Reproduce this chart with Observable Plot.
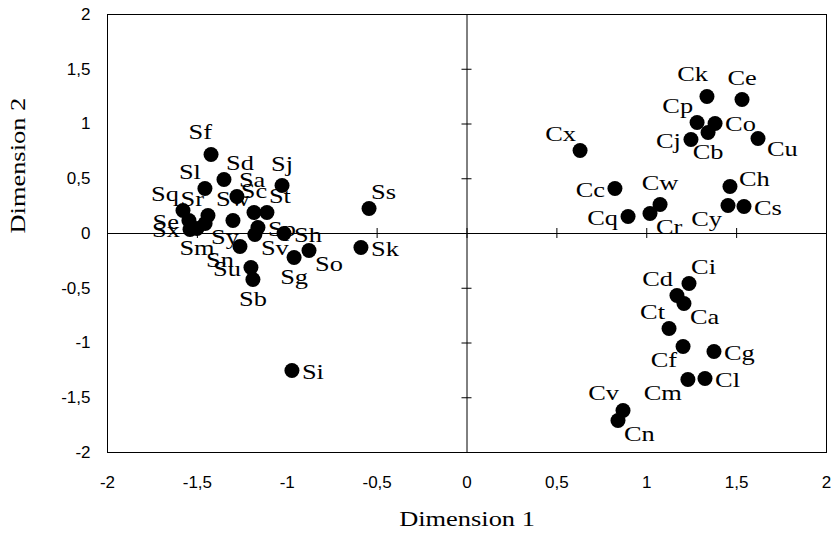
<!DOCTYPE html>
<html>
<head>
<meta charset="utf-8">
<script src="https://cdn.jsdelivr.net/npm/d3@7"></script>
<script src="https://cdn.jsdelivr.net/npm/@observablehq/plot@0.6"></script>
<style>
  html, body { margin: 0; padding: 0; background: #fff; }
</style>
</head>
<body>
<div id="chart"></div>
<script>
// ---- data ----
const names = ["Sa","Sb","Sc","Sd","Se","Sf","Sg","Sh","Si","Sj","Sk","Sl","Sm","Sn","So","Sp","Sq","Sr","Ss","St","Su","Sv","Sw","Sx","Sy",
               "Ca","Cb","Cc","Cd","Ce","Cf","Cg","Ch","Ci","Cj","Ck","Cl","Cm","Cn","Co","Cp","Cq","Cr","Cs","Ct","Cu","Cv","Cw","Cx","Cy"];
const dim1 = [-1.280,-1.191,-1.185,-1.352,-1.547,-1.424,-0.962,-1.018,-0.974,-1.029,-0.590,-1.458,-1.502,-1.263,-0.879,-1.163,-1.580,-1.441,-0.545,-1.113,-1.202,-1.180,-1.302,-1.541,-1.457,
              1.207,1.341,0.823,1.168,1.530,1.202,1.374,1.463,1.235,1.246,1.335,1.324,1.229,0.840,1.380,1.280,0.896,1.018,1.541,1.124,1.619,0.868,1.074,0.629,1.452];
const dim2 = [0.338,-0.420,0.192,0.493,0.119,0.721,-0.219,0.000,-1.251,0.438,-0.128,0.411,0.046,-0.119,-0.155,0.055,0.210,0.164,0.228,0.192,-0.311,-0.009,0.119,0.037,0.091,
              -0.639,0.922,0.411,-0.566,1.224,-1.032,-1.078,0.429,-0.457,0.858,1.251,-1.324,-1.333,-1.708,1.005,1.014,0.155,0.183,0.247,-0.868,0.868,-1.616,0.265,0.758,0.256];
// label placement (compass direction relative to the point)
const labelDir = ["ne","s","n","ne","w","nnw","s","e","e","n","e","nw","s","sw","se","e","nw","nw","ne","ne","w","se","n","w","se",
                  "se","s","w","nw","n","sw","e","ene","ne","w","nnw","e","sw","se","e","nw","w","se","e","nw","ese","nw","n","nw","sw"];
const axisTicks = [-2,-1.5,-1,-0.5,0,0.5,1,1.5,2];
const xTitle = "Dimension 1";
const yTitle = "Dimension 2";

const points = names.map((n, i) => ({name: n, x: dim1[i], y: dim2[i], dir: labelDir[i]}));

// ---- styling ----
const offsets = {
  n:   {dx: 0,   dy: -22, anchor: "middle"},
  nnw: {dx: 1,   dy: -23, anchor: "end"},
  s:   {dx: 0,   dy: 19,  anchor: "middle"},
  e:   {dx: 10,  dy: 1,   anchor: "start"},
  ene: {dx: 9,   dy: -8,  anchor: "start"},
  ese: {dx: 9,   dy: 10,  anchor: "start"},
  w:   {dx: -10, dy: 1,   anchor: "end"},
  ne:  {dx: 2,   dy: -17, anchor: "start"},
  nw:  {dx: -4,  dy: -17, anchor: "end"},
  se:  {dx: 6,   dy: 13,  anchor: "start"},
  sw:  {dx: -6,  dy: 13,  anchor: "end"}
};
const serif = "Liberation Serif, Times New Roman, serif";
const sans = "Liberation Sans, Arial, sans-serif";
const fmt = d => String(d).replace(".", ",");
const yPx = 109.5;   // pixels per unit on y (tick length)
const xPx = 179.75;  // pixels per unit on x (tick length)

const labelMarks = Object.entries(offsets).map(([dir, o]) =>
  Plot.text(points.filter(p => p.dir === dir), {
    x: "x", y: "y", text: "name",
    dx: o.dx, dy: o.dy, textAnchor: o.anchor,
    fontFamily: serif, fontSize: 22, fill: "black"
  })
);

const plot = Plot.plot({
  width: 832,
  height: 540,
  marginLeft: 107,
  marginRight: 6,
  marginTop: 14,
  marginBottom: 88,
  style: {background: "white", color: "black", overflow: "visible"},
  x: {domain: [-2, 2]},
  y: {domain: [-2, 2]},
  marks: [
    Plot.frame({stroke: "black", strokeWidth: 1}),
    Plot.ruleX([0], {stroke: "black"}),
    Plot.ruleY([0], {stroke: "black"}),
    Plot.ruleX(axisTicks, {x: d => d, y1: -5 / yPx, y2: 5 / yPx, stroke: "black"}),
    Plot.ruleY(axisTicks, {y: d => d, x1: -5 / xPx, x2: 5 / xPx, stroke: "black"}),
    Plot.axisX({ticks: axisTicks, tickFormat: fmt, tickSize: 0, tickPadding: 23, fontSize: 17, fontFamily: sans, label: null}),
    Plot.axisY({ticks: axisTicks, tickFormat: fmt, tickSize: 0, tickPadding: 17, fontSize: 17, fontFamily: sans, label: null}),
    Plot.dot(points, {x: "x", y: "y", r: 7.5, fill: "black", stroke: "none"}),
    ...labelMarks,
    Plot.text([xTitle], {frameAnchor: "bottom", dy: 73, fontFamily: serif, fontSize: 22, fill: "black"}),
    Plot.text([yTitle], {frameAnchor: "left", dx: -90, rotate: -90, fontFamily: serif, fontSize: 22, fill: "black"})
  ]
});

document.getElementById("chart").appendChild(plot);

// widen the serif glyphs to match the reference's broader letterforms
plot.querySelectorAll('g[font-family*="Serif"] text').forEach(t => {
  const w = t.getComputedTextLength();
  if (w > 0) {
    t.setAttribute("textLength", (w * 1.2).toFixed(1));
    t.setAttribute("lengthAdjust", "spacingAndGlyphs");
  }
});
</script>
</body>
</html>
